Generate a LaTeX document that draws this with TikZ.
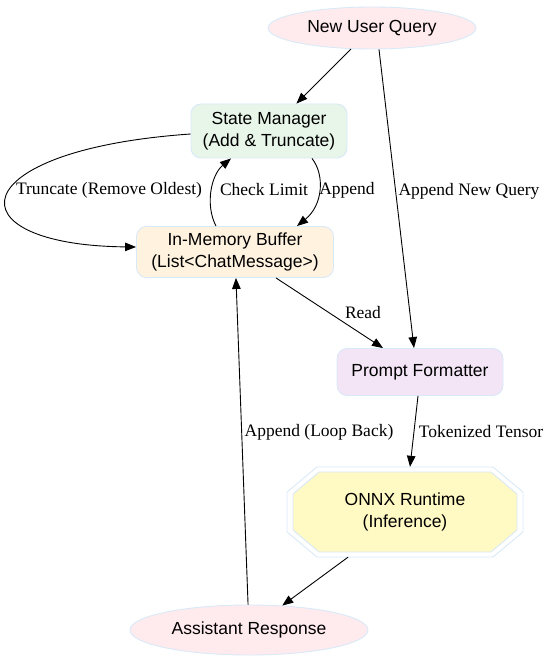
\documentclass[tikz,border=0pt]{standalone}
\usepackage{fontspec}
\setmainfont{Liberation Serif}
\newfontfamily\nodefont{Liberation Sans}
\usetikzlibrary{shapes.geometric,arrows.meta}
\definecolor{bordc}{HTML}{D8E9F8}
\definecolor{pinkf}{HTML}{FFEBEE}
\definecolor{greenf}{HTML}{E8F5E9}
\definecolor{orangef}{HTML}{FFF3E0}
\definecolor{purplef}{HTML}{F3E5F5}
\definecolor{yellowf}{HTML}{FFF9C4}
\begin{document}
\begin{tikzpicture}[x=1pt,y=-1pt,
  nfont/.style={font=\nodefont\fontsize{17.5}{22}\selectfont, align=center, inner sep=0pt},
  box/.style={nfont, draw=bordc, line width=0.9pt, rounded corners=10pt},
  oval/.style={nfont, ellipse, draw=bordc, line width=0.9pt},
  edge/.style={-{Triangle[length=11pt,width=8.5pt]}, line width=0.9pt},
  lbl/.style={font=\fontsize{17.5}{21}\selectfont, inner sep=1pt}]
\useasboundingbox (0,0) rectangle (550,660);

% nodes
\node[oval, fill=pinkf, minimum width=208pt, minimum height=42pt] (nq) at (372,28) {New User Query};
\node[box, fill=greenf, minimum width=156pt, minimum height=54pt] (sm) at (269,131) {State Manager\\(Add \& Truncate)};
\node[box, fill=orangef, minimum width=197pt, minimum height=51pt] (mb) at (235,252) {In-Memory Buffer\\(List<ChatMessage>)};
\node[box, fill=purplef, minimum width=166pt, minimum height=47pt] (pf) at (420,372) {Prompt Formatter};
\draw[draw=bordc, line width=0.9pt] (287,492) -- (317,467) -- (493,467) -- (523,492) -- (523,532) -- (493,557) -- (317,557) -- (287,532) -- cycle;
\draw[draw=bordc, line width=0.9pt, fill=yellowf] (293,494) -- (319,472) -- (491,472) -- (517,494) -- (517,530) -- (491,552) -- (319,552) -- (293,530) -- cycle;
\node[nfont, minimum width=236pt, minimum height=90pt] (onnx) at (405,512) {ONNX Runtime\\(Inference)};
\node[oval, fill=pinkf, minimum width=238pt, minimum height=50pt] (ar) at (249,630) {Assistant Response};

% edges
\draw[edge] (nq) -- (sm);
\draw[edge] ([xshift=7pt]nq.south) -- ([xshift=-6pt]pf.north);
\draw[edge] ([xshift=43pt]sm.south) .. controls (325,175) and (323,205) .. ([xshift=62pt]mb.north);
\draw[edge] ([xshift=-19pt]mb.north) .. controls (205,205) and (211,175) .. ([xshift=-38pt]sm.south);
\draw[edge] ([yshift=-3pt]sm.west) .. controls (-40,150) and (-50,245) .. ([yshift=5pt]mb.west);
\draw[edge] ([xshift=41pt]mb.south) -- ([xshift=-37pt]pf.north);
\draw[edge] ([xshift=-2pt]pf.south) -- ([xshift=5pt]onnx.north);
\draw[edge] ([xshift=-57pt]onnx.south) -- (ar);
\draw[edge] (ar) -- (mb);

% labels
\node[lbl] (l1) at (109,190) {Truncate (Remove Oldest)};
\node[lbl] (l2) at (264,190) {Check Limit};
\node[lbl] (l3) at (347,190) {Append};
\node[lbl] (l4) at (469,191) {Append New Query};
\node[lbl] (l5) at (363,313) {Read};
\node[lbl] (l6) at (319,432) {Append (Loop Back)};
\node[lbl] (l7) at (481,432) {Tokenized Tensor};
\end{tikzpicture}
\end{document}
